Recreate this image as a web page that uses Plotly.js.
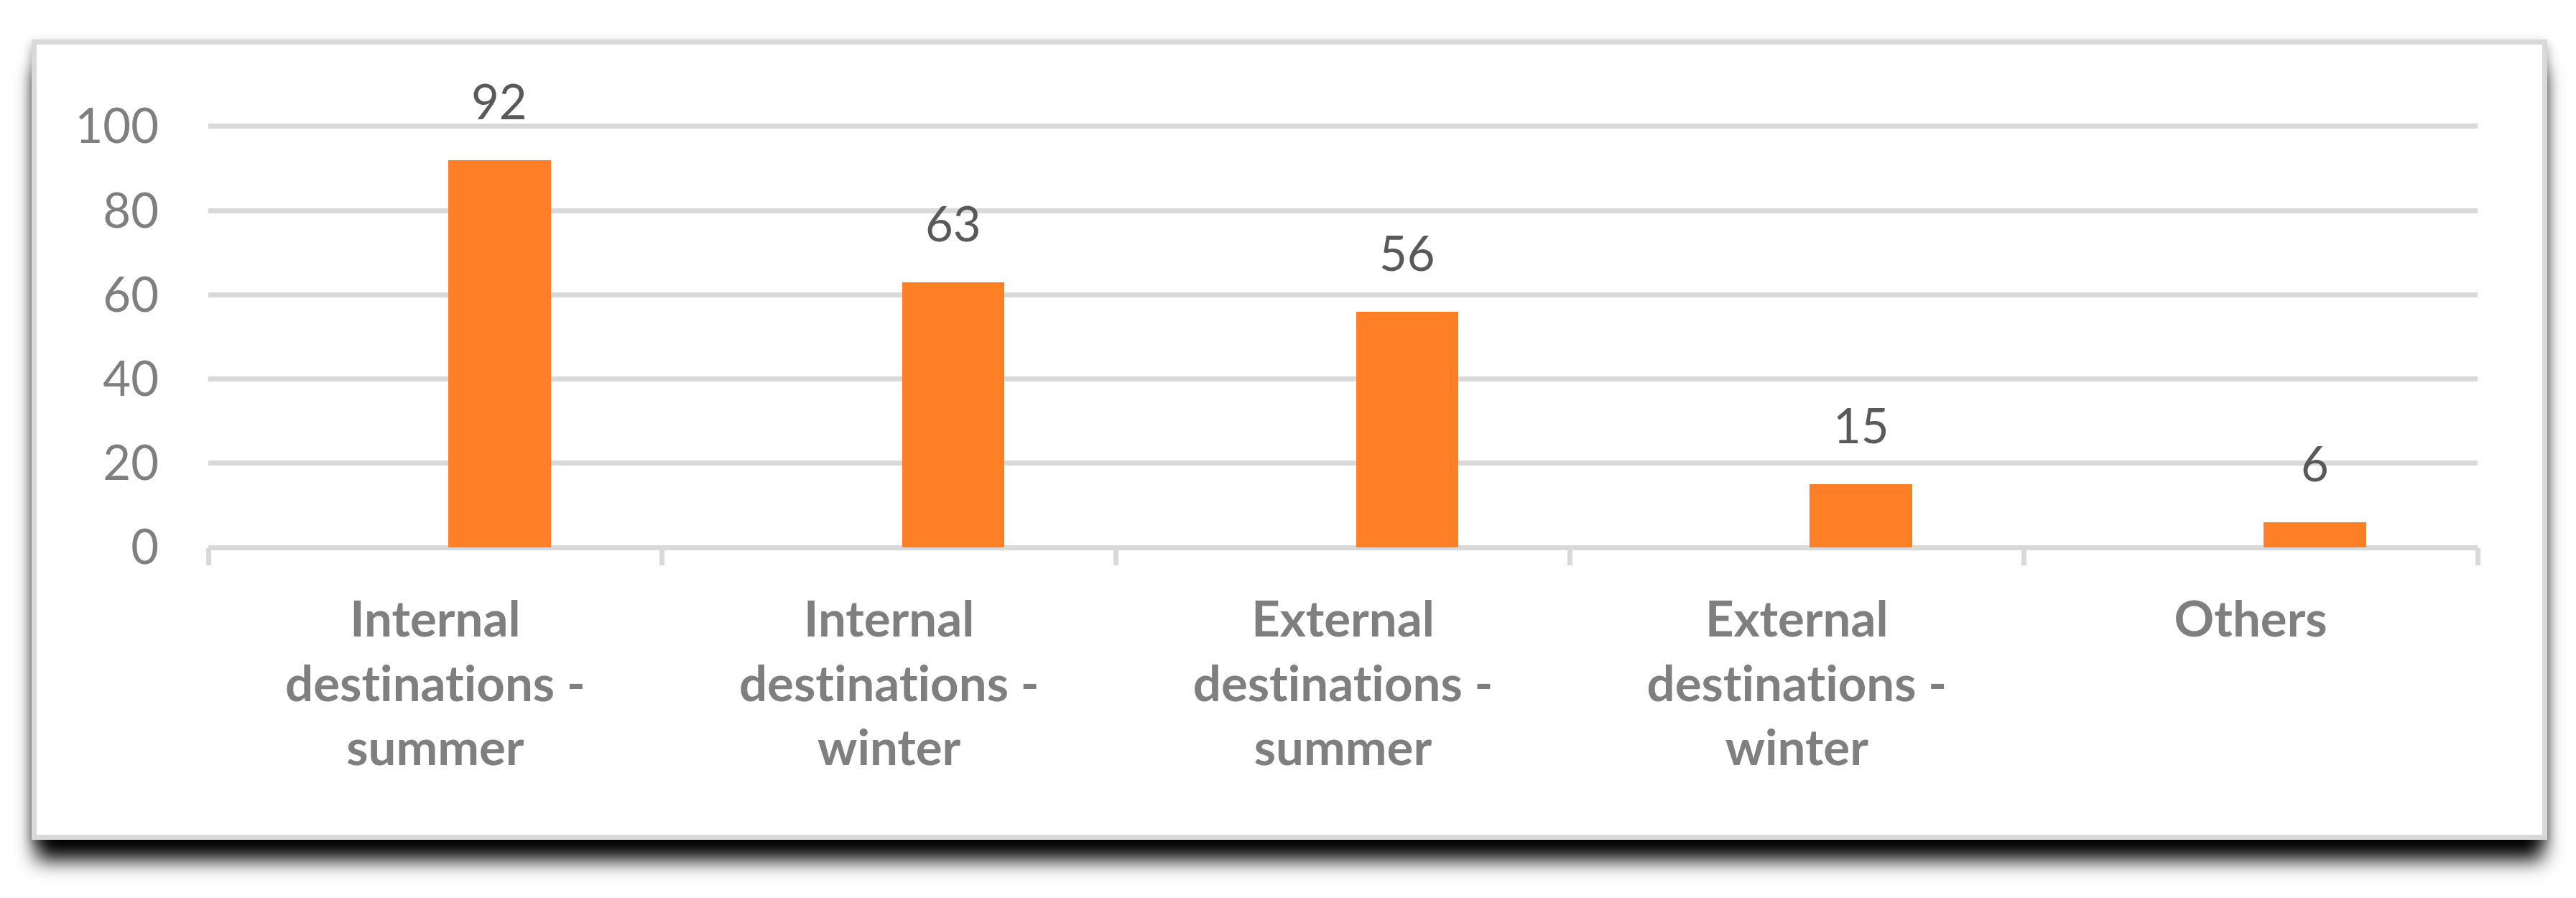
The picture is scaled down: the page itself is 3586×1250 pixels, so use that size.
<!DOCTYPE html>
<html>
<head>
<meta charset="utf-8">
<script src="https://cdn.plot.ly/plotly-3.0.1.min.js"></script>
<style>
  html, body { margin: 0; padding: 0; background: #ffffff; width: 3586px; height: 1250px; overflow: hidden; }
  #frame {
    position: absolute; left: 44px; top: 55px; width: 3502px; height: 1114px;
    box-sizing: border-box; border: 7px solid #d9d9d9; background: #ffffff;
    box-shadow: 0 34px 26px -6px rgba(0,0,0,1), 0 6px 14px rgba(0,0,0,0.35);
  }
  #chart { position: absolute; left: 0; top: 0; width: 3586px; height: 1250px; }
  #chart text { font-variant-ligatures: none; font-feature-settings: "liga" 0, "clig" 0; }
</style>
</head>
<body>
<div id="frame"></div>
<div id="chart"></div>
<script>
// ---- data ----
const categories = [
  "Internal destinations - summer",
  "Internal destinations - winter",
  "External destinations - summer",
  "External destinations - winter",
  "Others"
];
const tickLabels = [
  "Internal<br>destinations -<br>summer",
  "Internal<br>destinations -<br>winter",
  "External<br>destinations -<br>summer",
  "External<br>destinations -<br>winter",
  "Others"
];
const values = [92, 63, 56, 15, 6];
const yTicks = [0, 20, 40, 60, 80, 100];

// ---- styling ----
const W = 3586, H = 1250;
const M = { l: 289.5, r: 136.5, t: 172.6, b: 487.5 };
const barWidth = 0.226;
const barOffset = 0.0285;
const slotPx = (W - M.l - M.r) / categories.length;
const labelShift = (barOffset + barWidth / 2) * slotPx;

const FONT = "Lato, 'Open Sans', sans-serif";

const trace = {
  type: "bar",
  x: categories,
  y: values,
  width: barWidth,
  offset: barOffset,
  marker: { color: "#FF7F27", line: { width: 0 } },
  hoverinfo: "none",
  showlegend: false
};

const annotations = categories.map((c, i) => ({
  x: c, y: values[i], xref: "x", yref: "y",
  text: String(values[i]),
  showarrow: false,
  xanchor: "center", yanchor: "bottom",
  xshift: labelShift, yshift: 41,
  font: { family: FONT, size: 67, color: "#595959" }
}));

const layout = {
  width: W, height: H,
  margin: M,
  paper_bgcolor: "rgba(0,0,0,0)",
  plot_bgcolor: "rgba(0,0,0,0)",
  showlegend: false,
  bargap: 0,
  xaxis: {
    type: "category",
    categoryorder: "array",
    categoryarray: categories,
    range: [-0.5, categories.length - 0.5],
    tickmode: "array",
    tickvals: categories,
    ticktext: tickLabels,
    tickson: "boundaries",
    ticks: "outside",
    ticklen: 24,
    tickwidth: 7,
    tickcolor: "#d9d9d9",
    showgrid: false,
    showline: false,
    zeroline: false,
    ticklabelstandoff: 54,
    tickfont: { family: FONT, size: 69, color: "#7f7f7f", weight: "bold" },
    fixedrange: true
  },
  yaxis: {
    range: [0, 100.5],
    tickmode: "array",
    tickvals: yTicks,
    ticktext: yTicks.map(String),
    ticks: "",
    showgrid: true,
    gridcolor: "#d9d9d9",
    gridwidth: 7,
    zeroline: true,
    zerolinecolor: "#d9d9d9",
    zerolinewidth: 7,
    showline: false,
    ticklabelstandoff: 68,
    tickfont: { family: FONT, size: 67, color: "#7f7f7f" },
    fixedrange: true
  },
  annotations: annotations
};

Plotly.newPlot("chart", [trace], layout, { staticPlot: true, displayModeBar: false });
</script>
</body>
</html>
